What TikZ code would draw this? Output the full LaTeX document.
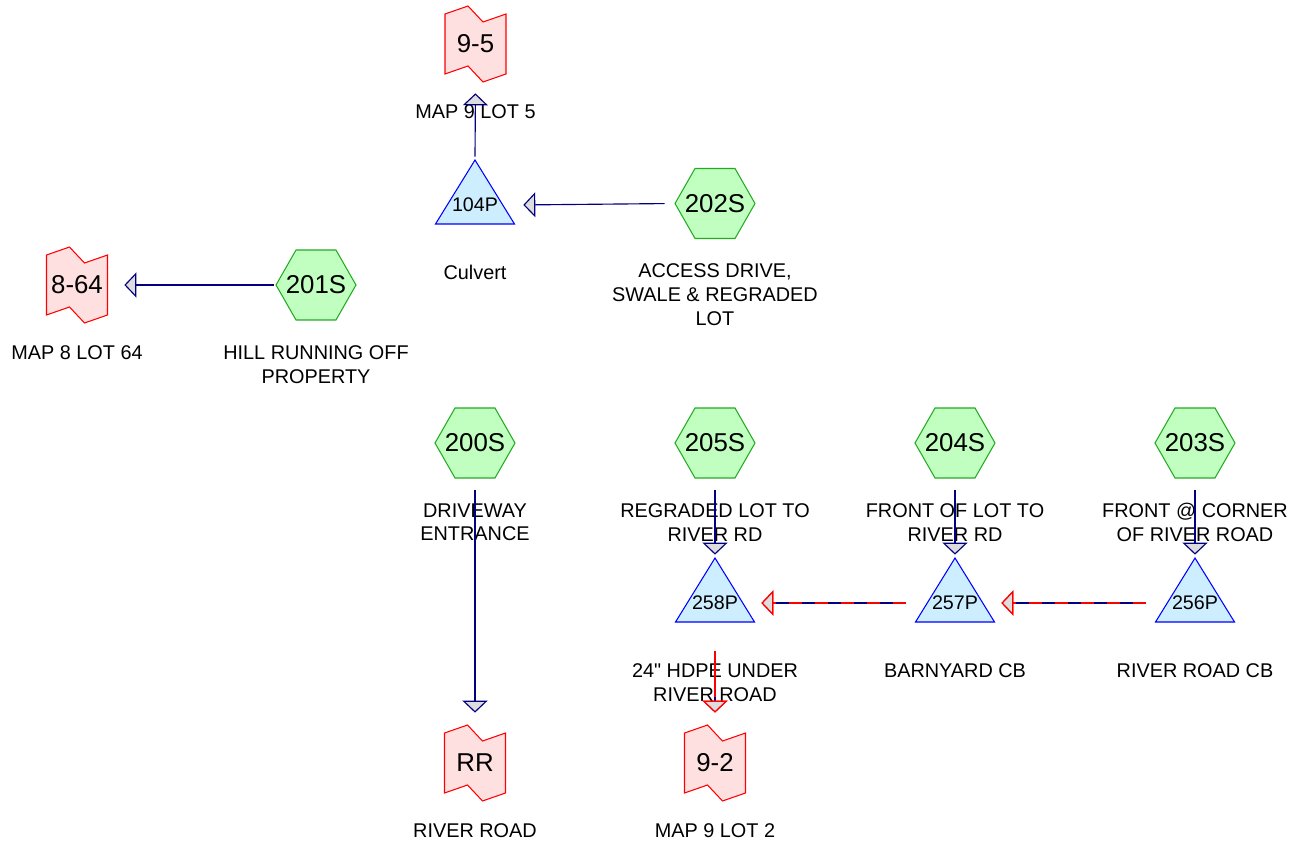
\documentclass[tikz,border=0pt]{standalone}
\usepackage{fontspec}
\setmainfont{Liberation Sans}
\newfontfamily\plainsans{Liberation Sans}
\usepackage{tikz}
\usetikzlibrary{arrows.meta,positioning}
\definecolor{navy}{HTML}{000080}
\definecolor{catfill}{HTML}{C0FFC0}
\definecolor{catline}{HTML}{22AA22}
\definecolor{pondfill}{HTML}{CCEEFF}
\definecolor{pondline}{HTML}{0000FF}
\definecolor{linkfill}{HTML}{FFE0E0}
\definecolor{linkline}{HTML}{FF0000}
\definecolor{tipgray}{HTML}{DDDDDD}

\begin{document}
\begin{tikzpicture}[x=0.02cm,y=-0.02cm,every node/.style={inner sep=0pt},
  catchment/.style={minimum width=1.68cm,minimum height=1.48cm,font=\fontsize{14.7}{16}\selectfont,
    path picture={\draw[catline,fill=catfill,line width=0.6pt] ([xshift=0.8cm]path picture bounding box.center) -- ++(-0.4cm,0.7cm) -- ++(-0.8cm,0cm) -- ++(-0.4cm,-0.7cm) -- ++(0.4cm,-0.7cm) -- ++(0.8cm,0cm) -- cycle;}},
  pond/.style={minimum width=1.68cm,minimum height=1.92cm,font=\fontsize{11.2}{13}\selectfont,
    path picture={\draw[pondline,fill=pondfill,line width=0.6pt] ([yshift=0.9cm]path picture bounding box.center) -- ++(0.79cm,-1.28cm) -- ++(-1.58cm,0cm) -- cycle;}},
  linkflag/.style={minimum width=1.28cm,minimum height=1.6cm,font=\fontsize{14.7}{16}\selectfont,
    path picture={\draw[linkline,fill=linkfill,line width=0.6pt] ([shift={(-0.61cm,0.6cm)}]path picture bounding box.center) -- ++(0.46cm,0.16cm) -- ++(0.3cm,-0.32cm) -- ++(0.46cm,0.16cm) -- ++(0cm,-1.2cm) -- ++(-0.46cm,-0.16cm) -- ++(-0.3cm,0.32cm) -- ++(-0.46cm,-0.16cm) -- cycle;}},
  desc/.style={font=\fontsize{11.3}{13.6}\selectfont,align=center},
  flow/.style={draw=navy,line width=0.65pt,line join=miter,-{Triangle[length=6.8pt,width=14.2pt,fill=tipgray]}},
  redflow/.style={flow,-{Triangle[length=6.8pt,width=14.2pt,fill=tipgray,color=linkline]},postaction={draw=linkline,line width=0.7pt,dash pattern=#1}},
  redflow/.default={on 7.4pt off 7.4pt}]
\useasboundingbox (0,0) rectangle (1301,841);
% subcatchments
\node[catchment] (s202) at (715,203.5) {202S};
\node[catchment] (s201) at (316,285) {201S};
\node[catchment] (s200) at (475,443) {200S};
\node[catchment] (s205) at (715,443) {205S};
\node[catchment] (s204) at (955,443) {204S};
\node[catchment] (s203) at (1195,443) {203S};
% ponds
\node[pond] (p104) at (475,205) {104P};
\node[pond] (p258) at (715,603) {258P};
\node[pond] (p257) at (955,603) {257P};
\node[pond] (p256) at (1195,603) {256P};
% links
\node[linkflag] (link95) at (475.5,44) {9-5};
\node[linkflag] (link864) at (77,285) {8-64};
\node[linkflag] (linkrr) at (475,763) {RR};
\node[linkflag] (link92) at (715,763) {9-2};
% captions
\node[desc,below=1.2cm of link95.center] (d95) {MAP 9 LOT 5};
\node[desc,below=1.2cm of p104.center] (d104) {Culvert};
\node[desc,below=1.2cm of s202.center] (d202) {ACCESS DRIVE,\\SWALE \& REGRADED\\LOT};
\node[desc,below=1.2cm of link864.center] (d864) {MAP 8 LOT 64};
\node[desc,below=1.2cm of s201.center] (d201) {HILL RUNNING OFF\\PROPERTY};
\node[desc,below=1.2cm of s200.center] (d200) {DRIVEWAY\\ENTRANCE};
\node[desc,below=1.2cm of s205.center] (d205) {REGRADED LOT TO\\RIVER RD};
\node[desc,below=1.2cm of s204.center] (d204) {FRONT OF LOT TO\\RIVER RD};
\node[desc,below=1.2cm of s203.center] (d203) {FRONT @ CORNER\\OF RIVER ROAD};
\node[desc,below=1.2cm of p258.center] (d258) {{\plainsans 24"} HDPE UNDER\\RIVER ROAD};
\node[desc,below=1.2cm of p257.center] (d257) {BARNYARD CB};
\node[desc,below=1.2cm of p256.center] (d256) {RIVER ROAD CB};
\node[desc,below=1.2cm of linkrr.center] (drr) {RIVER ROAD};
\node[desc,below=1.2cm of link92.center] (d92) {MAP 9 LOT 2};
% routing
\draw[flow,shorten >=0.18cm] (p104.north) -- (link95.south);
\draw[flow,shorten <=0.16cm,shorten >=0.12cm] (s202.west) -- (p104.east);
\draw[flow,shorten >=0.3cm] (s201.west) -- (link864.east);
\draw[flow,shorten <=0.2cm,shorten >=0.2cm] (s200.south) -- (linkrr.north);
\draw[flow,shorten <=0.2cm] (s205.south) -- (p258.north);
\draw[flow,shorten <=0.2cm] (s204.south) -- (p257.north);
\draw[flow,shorten <=0.2cm] (s203.south) -- (p256.north);
\draw[redflow,shorten <=0.14cm,shorten >=0.08cm] (p256.west) -- (p257.east);
\draw[redflow,shorten <=0.14cm,shorten >=0.08cm] (p257.west) -- (p258.east);
\draw[redflow={on 26pt off 20pt},shorten >=0.2cm] (p258.south) -- (link92.north);
\end{tikzpicture}
\end{document}
